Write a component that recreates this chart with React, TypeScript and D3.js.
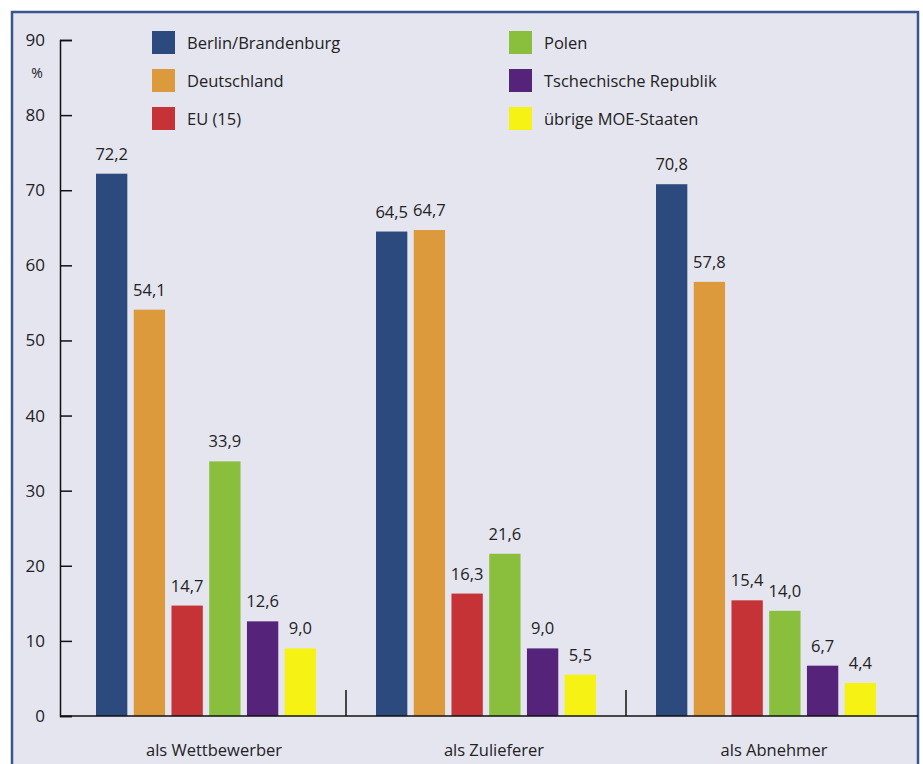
import React, { useEffect, useRef } from "react";
import * as d3 from "d3";

const categories = ["als Wettbewerber", "als Zulieferer", "als Abnehmer"];
const series = [
  "Berlin/Brandenburg",
  "Deutschland",
  "EU (15)",
  "Polen",
  "Tschechische Republik",
  "übrige MOE-Staaten",
];
const colors = ["#2d4a7e", "#dc9a3c", "#c53336", "#8abf3e", "#55237a", "#f5f214"];
const values: number[][] = [
  [72.2, 54.1, 14.7, 33.9, 12.6, 9.0],
  [64.5, 64.7, 16.3, 21.6, 9.0, 5.5],
  [70.8, 57.8, 15.4, 14.0, 6.7, 4.4],
];
const yTicks = [0, 10, 20, 30, 40, 50, 60, 70, 80, 90];

const width = 923;
const height = 764;
const font = "'Open Sans', sans-serif";

const App: React.FC = () => {
  const svgRef = useRef<SVGSVGElement | null>(null);

  useEffect(() => {
    const svg = d3.select(svgRef.current);
    svg.selectAll("*").remove();

    // frame
    svg
      .append("rect")
      .attr("x", 12)
      .attr("y", 12)
      .attr("width", 906)
      .attr("height", height + 10)
      .attr("fill", "#e5e5f0")
      .attr("stroke", "#3a5590")
      .attr("stroke-width", 2.5);

    const y = d3.scaleLinear().domain([0, 90]).range([716, 40]);
    const x0 = d3.scaleBand<string>().domain(categories).range([66, 906]);
    const x1 = d3
      .scaleBand<string>()
      .domain(series)
      .range([-110, 110])
      .paddingInner(0.17);

    // y axis
    const yAxis = d3
      .axisRight(y)
      .tickValues(yTicks)
      .tickSize(12)
      .tickFormat(() => "");
    svg
      .append("g")
      .attr("transform", "translate(60,0)")
      .call(yAxis)
      .call((g) => g.selectAll("path,line").attr("stroke", "#111").attr("stroke-width", 1.5));

    svg
      .append("g")
      .selectAll("text")
      .data(yTicks)
      .enter()
      .append("text")
      .attr("x", 45)
      .attr("y", (d) => y(d) + 6)
      .attr("text-anchor", "end")
      .attr("font-family", font)
      .attr("font-size", 17)
      .attr("fill", "#222")
      .text((d) => `${d}`);

    svg
      .append("text")
      .attr("x", 37)
      .attr("y", 78)
      .attr("text-anchor", "middle")
      .attr("font-family", font)
      .attr("font-size", 14)
      .attr("fill", "#222")
      .text("%");

    // bars
    const groups = svg
      .selectAll(".grp")
      .data(values)
      .enter()
      .append("g")
      .attr("class", "grp")
      .attr("transform", (_, i) => `translate(${(x0(categories[i]) as number) + x0.bandwidth() / 2},0)`);

    groups
      .selectAll("rect")
      .data((d) => d)
      .enter()
      .append("rect")
      .attr("x", (_, j) => x1(series[j]) as number)
      .attr("y", (d) => y(d))
      .attr("width", x1.bandwidth())
      .attr("height", (d) => y(0) - y(d))
      .attr("fill", (_, j) => colors[j]);

    groups
      .selectAll("text")
      .data((d) => d)
      .enter()
      .append("text")
      .attr("x", (_, j) => (x1(series[j]) as number) + x1.bandwidth() / 2)
      .attr("y", (d) => y(d) - 14)
      .attr("text-anchor", "middle")
      .attr("font-family", font)
      .attr("font-size", 16.5)
      .attr("fill", "#222")
      .text((d) => d.toFixed(1).replace(".", ","));

    // x axis
    svg
      .append("line")
      .attr("x1", 60)
      .attr("x2", 918)
      .attr("y1", y(0))
      .attr("y2", y(0))
      .attr("stroke", "#111")
      .attr("stroke-width", 1.5);

    svg
      .append("g")
      .selectAll("line")
      .data(categories.slice(1))
      .enter()
      .append("line")
      .attr("x1", (d) => x0(d) as number)
      .attr("x2", (d) => x0(d) as number)
      .attr("y1", y(0))
      .attr("y2", y(0) - 26)
      .attr("stroke", "#111")
      .attr("stroke-width", 1.5);

    svg
      .append("g")
      .selectAll("text")
      .data(categories)
      .enter()
      .append("text")
      .attr("x", (d) => (x0(d) as number) + x0.bandwidth() / 2 + 8)
      .attr("y", 756)
      .attr("text-anchor", "middle")
      .attr("font-family", font)
      .attr("font-size", 16.5)
      .attr("fill", "#222")
      .text((d) => d);

    // legend
    const legend = svg
      .append("g")
      .selectAll("g")
      .data(series)
      .enter()
      .append("g")
      .attr("transform", (_, i) => `translate(${i < 3 ? 152 : 509},${31 + (i % 3) * 38})`);
    legend
      .append("rect")
      .attr("width", 23)
      .attr("height", 23)
      .attr("fill", (_, i) => colors[i]);
    legend
      .append("text")
      .attr("x", 35)
      .attr("y", 18)
      .attr("font-family", font)
      .attr("font-size", 16.5)
      .attr("fill", "#222")
      .text((d) => d);
  }, []);

  return (
    <svg
      ref={svgRef}
      width={width}
      height={height}
      style={{ position: "absolute", left: 0, top: 0 }}
    ></svg>
  );
};

export default App;
